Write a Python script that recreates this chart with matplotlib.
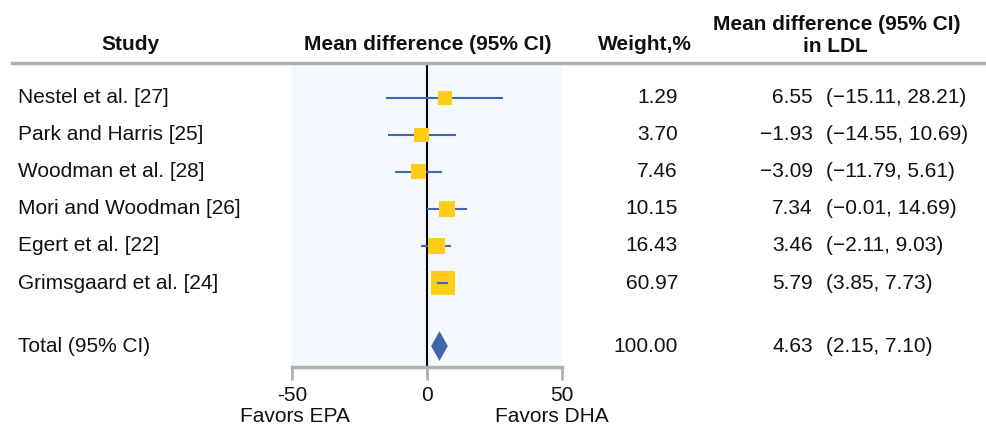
import matplotlib
matplotlib.use("Agg")
import matplotlib.pyplot as plt
from matplotlib.patches import Rectangle, Polygon
from matplotlib.transforms import blended_transform_factory

plt.rcParams['font.family'] = ['Liberation Sans', 'DejaVu Sans']

studies = ["Nestel et al. [27]", "Park and Harris [25]", "Woodman et al. [28]",
           "Mori and Woodman [26]", "Egert et al. [22]", "Grimsgaard et al. [24]"]
means = [6.55, -1.93, -3.09, 7.34, 3.46, 5.79]
lows = [-15.11, -14.55, -11.79, -0.01, -2.11, 3.85]
highs = [28.21, 10.69, 5.61, 14.69, 9.03, 7.73]
weights = [1.29, 3.70, 7.46, 10.15, 16.43, 60.97]
total_label = "Total (95% CI)"
total_mean, total_low, total_high, total_weight = 4.63, 2.15, 7.10, 100.00
xticks = [-50, 0, 50]
xlabels_side = ["Favors EPA", "Favors DHA"]

W, H = 987, 429
fig = plt.figure(figsize=(W / 100, H / 100), dpi=100)

def fx(px):
    return px / W

def fy(py):
    return 1 - py / H

ax_left, ax_right, ax_top, ax_bot = 292, 562, 64, 367
ax = fig.add_axes([fx(ax_left), fy(ax_bot), fx(ax_right - ax_left), (ax_bot - ax_top) / H])
ax.set_facecolor('#F3F9FE')

row_y = list(range(len(studies)))
total_y = len(studies) - 1 + 1.7
ax.set_xlim(-50, 50)
ax.set_ylim(total_y + 0.565, -0.91)

sq_color = '#FFCC1A'
ln_color = '#4267AC'

ax.axvline(0, color='black', lw=1.5, zorder=2)

px_per_x = (ax_right - ax_left) / 100.0
px_per_y = 37.2

for y, m, lo, hi, w in zip(row_y, means, lows, highs, weights):
    ax.plot([lo, hi], [y, y], color=ln_color, lw=1.5, zorder=3, solid_capstyle='butt')
    side = 14 + 0.164 * w
    sw = side / px_per_x
    sh = side / px_per_y
    ax.add_patch(Rectangle((m - sw / 2, y - sh / 2), sw, sh, facecolor=sq_color,
                           edgecolor='none', zorder=4))
    if lo > m - sw / 2 and hi < m + sw / 2:
        ax.plot([lo, hi], [y, y], color=ln_color, lw=1.5, zorder=5, solid_capstyle='butt')

dh = 15 / px_per_y
ax.add_patch(Polygon([(total_low - 0.6, total_y), (total_mean, total_y - dh),
                      (total_high + 0.6, total_y), (total_mean, total_y + dh)],
                     closed=True, facecolor='#3F66A8', edgecolor='none', zorder=4))

for s in ['top', 'left', 'right']:
    ax.spines[s].set_visible(False)
ax.spines['bottom'].set_color('#B0B0B0')
ax.spines['bottom'].set_linewidth(2.5)
ax.set_yticks([])
ax.set_xticks(xticks)
ax.set_xticklabels([str(t) for t in xticks])

fs = 15
tc = '#111111'
ax.tick_params(axis='x', colors='#B0B0B0', width=2, length=9, labelsize=fs,
               labelcolor=tc, pad=5)

fig.add_artist(plt.Line2D([fx(12), fx(987)], [fy(63), fy(63)], color='#B0B0B0', lw=2.5))

fig.text(fx(130), fy(45), "Study", ha='center', va='center', fontsize=fs, fontweight='bold', color=tc)
fig.text(fx(428), fy(45), "Mean difference (95% CI)", ha='center', va='center', fontsize=fs,
         fontweight='bold', color=tc)
fig.text(fx(645), fy(45), "Weight,%", ha='center', va='center', fontsize=fs, fontweight='bold', color=tc)
fig.text(fx(837), fy(24), "Mean difference (95% CI)", ha='center', va='center', fontsize=fs,
         fontweight='bold', color=tc)
fig.text(fx(835), fy(46), "in LDL", ha='center', va='center', fontsize=fs, fontweight='bold', color=tc)

trans = blended_transform_factory(fig.transFigure, ax.transData)

def fmt(v):
    return f"{v:.2f}".replace('-', '\u2212')

def put(xp, y, s, ha):
    t = fig.text(fx(xp), 0, s, ha=ha, va='center', fontsize=fs, color=tc)
    t.set_transform(trans)
    t.set_y(y)

for y, s, m, lo, hi, w in zip(row_y, studies, means, lows, highs, weights):
    put(18, y, s, 'left')
    put(678, y, f"{w:.2f}", 'right')
    put(813, y, fmt(m), 'right')
    put(826, y, f"({fmt(lo)}, {fmt(hi)})", 'left')

put(18, total_y, total_label, 'left')
put(678, total_y, f"{total_weight:.2f}", 'right')
put(813, total_y, fmt(total_mean), 'right')
put(826, total_y, f"({fmt(total_low)}, {fmt(total_high)})", 'left')

fig.text(fx(295), fy(417), xlabels_side[0], ha='center', va='center', fontsize=fs, color=tc)
fig.text(fx(552), fy(417), xlabels_side[1], ha='center', va='center', fontsize=fs, color=tc)

fig.savefig("out.png", dpi=100)
